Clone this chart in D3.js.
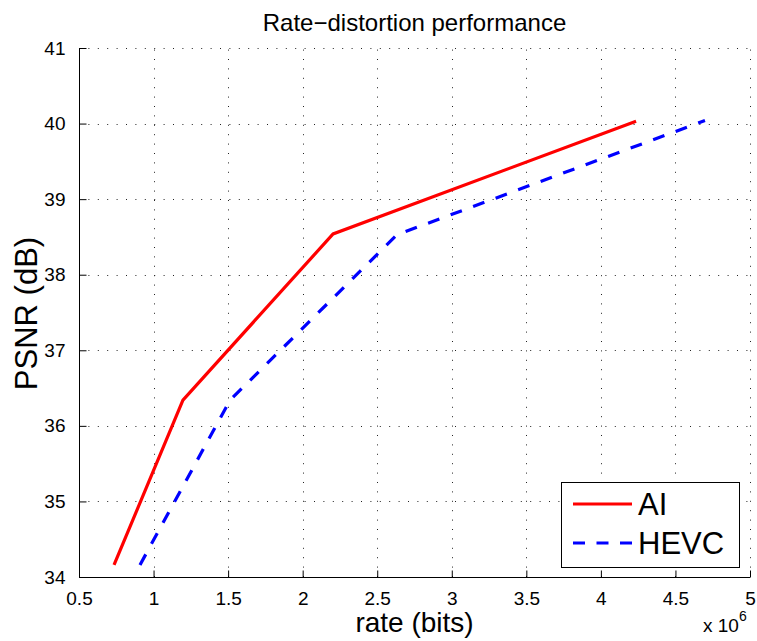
<!DOCTYPE html>
<html>
<head>
<meta charset="utf-8">
<script src="https://cdn.jsdelivr.net/npm/d3@7"></script>
<style>
  html, body { margin: 0; padding: 0; background: #fff; }
  svg { display: block; }
  text { font-family: "Liberation Sans", Arial, Helvetica, sans-serif; fill: #000; }
</style>
</head>
<body>
<svg id="chart" width="757" height="641"></svg>
<script>
// Rate (x 10^6 bits) and PSNR (dB) for each codec
const aiRate   = [0.735, 1.197, 2.204, 4.236];
const aiPsnr   = [34.16, 36.34, 38.54, 40.03];
const hevcRate = [0.909, 1.513, 2.633, 4.698];
const hevcPsnr = [34.16, 36.34, 38.53, 40.04];

const xTicks = [0.5, 1, 1.5, 2, 2.5, 3, 3.5, 4, 4.5, 5];
const yTicks = [34, 35, 36, 37, 38, 39, 40, 41];
const seriesNames = ["AI", "HEVC"];

const svg = d3.select("#chart");
const plotLeft = 79, plotRight = 750, plotTop = 48, plotBottom = 577;

const x = d3.scaleLinear().domain([0.5, 5]).range([plotLeft, plotRight]);
const y = d3.scaleLinear().domain([34, 41]).range([plotBottom, plotTop]);

// dotted grid
const grid = svg.append("g")
  .attr("stroke", "#222")
  .attr("stroke-width", 1)
  .attr("stroke-dasharray", "1,8.4");
grid.selectAll("line.gx").data(xTicks).join("line")
  .attr("class", "gx")
  .attr("x1", d => Math.round(x(d)) + 0.5).attr("x2", d => Math.round(x(d)) + 0.5)
  .attr("y1", plotBottom).attr("y2", plotTop);
grid.selectAll("line.gy").data(yTicks).join("line")
  .attr("class", "gy")
  .attr("y1", d => Math.round(y(d)) + 0.5).attr("y2", d => Math.round(y(d)) + 0.5)
  .attr("x1", plotLeft).attr("x2", plotRight);

// axes with inward ticks
const xAxis = d3.axisBottom(x).tickValues(xTicks).tickSize(-7).tickPadding(14)
  .tickFormat(d => String(d));
const yAxis = d3.axisLeft(y).tickValues(yTicks).tickSize(-7).tickPadding(14)
  .tickFormat(d => String(d));

const gx = svg.append("g").attr("transform", `translate(0,${plotBottom + 0.5})`).call(xAxis);
const gy = svg.append("g").attr("transform", `translate(${plotLeft + 0.5},0)`).call(yAxis);
[gx, gy].forEach(g => {
  g.select(".domain").attr("stroke", "#000").attr("stroke-width", 1);
  g.selectAll(".tick line").attr("stroke", "#000");
  g.selectAll("text").attr("font-size", 19).attr("fill", "#000")
    .style("font-family", '"Liberation Sans", Arial, sans-serif');
});
gx.select(".domain").attr("d", `M${plotLeft},0H${plotRight}`);
gy.select(".domain").attr("d", `M0,${plotTop}V${plotBottom}`);

// series lines
const line = d3.line().x(d => x(d[0])).y(d => y(d[1]));
svg.append("path")
  .datum(aiRate.map((r, i) => [r, aiPsnr[i]]))
  .attr("d", line)
  .attr("fill", "none").attr("stroke", "#ff0000").attr("stroke-width", 3.2)
  .attr("stroke-linejoin", "miter");
svg.append("path")
  .datum(hevcRate.map((r, i) => [r, hevcPsnr[i]]))
  .attr("d", line)
  .attr("fill", "none").attr("stroke", "#0000ff").attr("stroke-width", 3.2)
  .attr("stroke-dasharray", "12,12");

// title and labels
svg.append("text").attr("x", (plotLeft + plotRight) / 2).attr("y", 31)
  .attr("text-anchor", "middle").attr("font-size", 24)
  .text("Rate\u2212distortion performance");
svg.append("text").attr("x", (plotLeft + plotRight) / 2).attr("y", 632)
  .attr("text-anchor", "middle").attr("font-size", 28)
  .text("rate (bits)");
svg.append("text")
  .attr("transform", `translate(37,${(plotTop + plotBottom) / 2 + 1}) rotate(-90)`)
  .attr("text-anchor", "middle").attr("font-size", 31)
  .text("PSNR (dB)");

// exponent label
const ex = svg.append("text").attr("x", 703).attr("y", 632).attr("font-size", 19);
ex.append("tspan").text("x 10");
ex.append("tspan").attr("dy", -11).attr("font-size", 14).text("6");

// legend
const lg = svg.append("g");
lg.append("rect").attr("x", 561.5).attr("y", 482.5).attr("width", 178).attr("height", 85)
  .attr("fill", "#fff").attr("stroke", "#000").attr("stroke-width", 1);
const legendRows = [
  { name: seriesNames[0], color: "#ff0000", dash: null, cy: 504 },
  { name: seriesNames[1], color: "#0000ff", dash: "12,11.5", cy: 543 }
];
legendRows.forEach(r => {
  lg.append("line").attr("x1", 573).attr("x2", 632).attr("y1", r.cy).attr("y2", r.cy)
    .attr("stroke", r.color).attr("stroke-width", 3.2)
    .attr("stroke-dasharray", r.dash);
  lg.append("text").attr("x", 638).attr("y", r.cy + 11).attr("font-size", 31).text(r.name);
});
</script>
</body>
</html>
